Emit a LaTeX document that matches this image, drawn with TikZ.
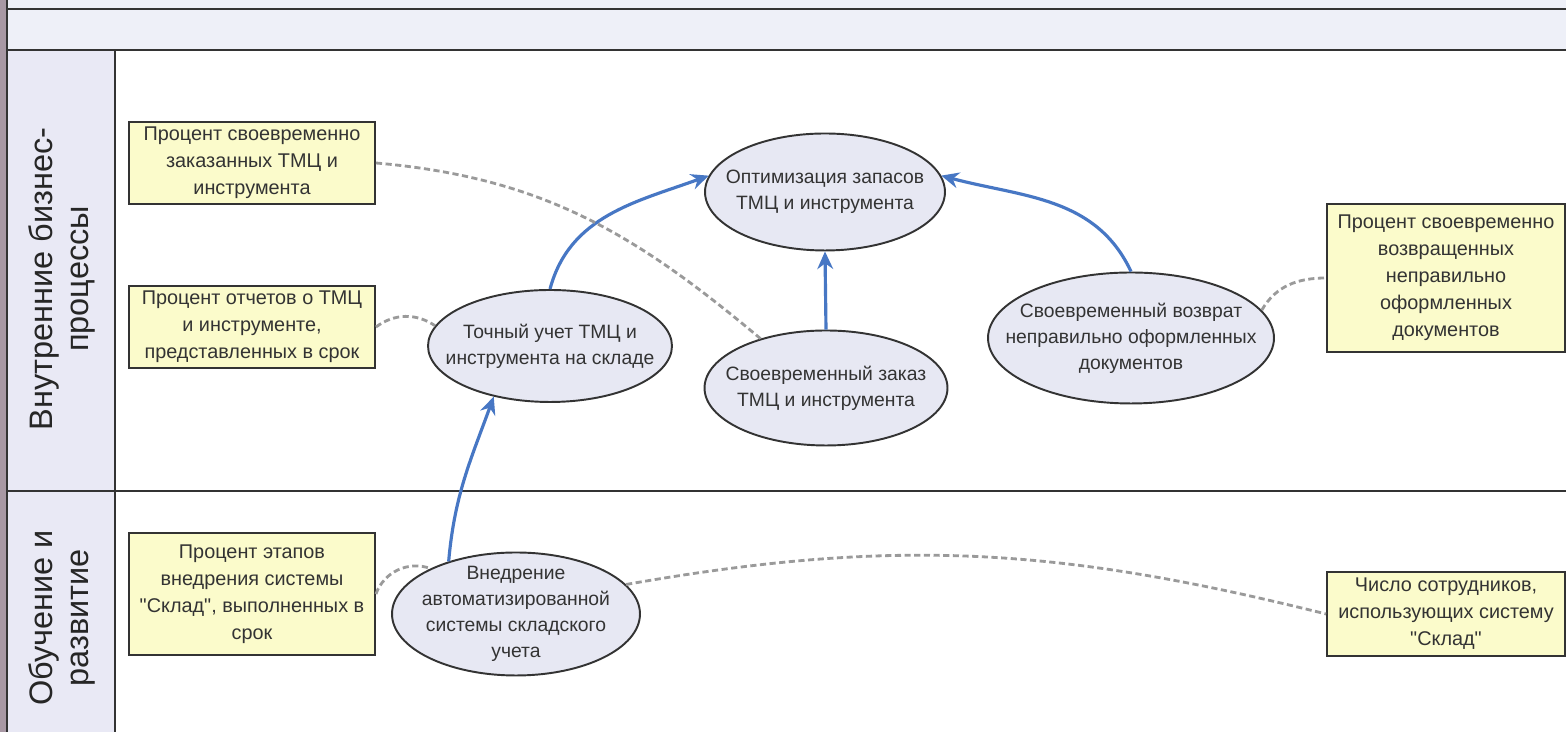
\documentclass[tikz,border=0pt]{standalone}
\usepackage{fontspec}
\setmainfont{Liberation Sans}[Ligatures=TeXOff]
\usetikzlibrary{arrows.meta,shapes.geometric}
\definecolor{lanebg}{HTML}{E9E9F5}
\definecolor{bandbg}{HTML}{EEF0F8}
\definecolor{edgebar}{HTML}{A898A4}
\definecolor{kpibg}{HTML}{FBFBCB}
\definecolor{goalbg}{HTML}{E7E8F3}
\definecolor{linkblue}{HTML}{4777C4}
\definecolor{tiegray}{HTML}{9A9A9A}
\begin{document}
\begin{tikzpicture}[x=0.02cm,y=0.02cm,>={Stealth[length=10pt,width=9pt]},
  kpi/.style={draw=black!80,line width=1.1pt,fill=kpibg,align=center,inner sep=1pt,
    text=black!80,font=\fontsize{11.3}{15.3}\selectfont},
  goal/.style={ellipse,draw=black!80,line width=1.1pt,fill=goalbg,align=center,
    inner xsep=-0.6cm,inner ysep=-0.3cm,text=black!80,font=\fontsize{11}{14.8}\selectfont},
  link/.style={->,line width=1.8pt,linkblue},
  tie/.style={line width=1.6pt,tiegray,dash pattern=on 3.5pt off 2pt},
  lane/.style={rotate=90,align=center,font=\fontsize{18.5}{20.4}\selectfont,text=black!85}]
\useasboundingbox (0,0) rectangle (1566,732);
% swimlanes
\fill[white] (0,0) rectangle (1566,732);
\fill[bandbg] (7,682) rectangle (1566,732);
\fill[lanebg] (7,0) rectangle (115,682);
\fill[edgebar] (0,0) rectangle (7,732);
\draw[line width=1.3pt,black!80] (7,0)--(7,732) (7,723)--(1566,723) (7,682)--(1566,682)
  (115,0)--(115,682) (7,241)--(1566,241);
\node[lane] (lp) at (62,453) {Внутренние бизнес-\\процессы};
\node[lane] (ld) at (62,114) {Обучение и\\развитие};
% goals
\node[goal,minimum width=4.8cm,minimum height=2.34cm] (g1) at (825,540) {Оптимизация запасов\\ТМЦ и инструмента};
\node[goal,minimum width=4.88cm,minimum height=2.24cm] (g2) at (550,386) {Точный учет ТМЦ и\\инструмента на складе};
\node[goal,minimum width=4.86cm,minimum height=2.3cm] (g3) at (826,344) {Своевременный заказ\\ТМЦ и инструмента};
\node[goal,minimum width=5.72cm,minimum height=2.62cm] (g4) at (1131,394) {Своевременный возврат\\неправильно оформленных\\документов};
\node[goal,minimum width=4.96cm,minimum height=2.46cm] (g5) at (516,118) {Внедрение\\автоматизированной\\системы складского\\учета};
% indicators
\node[kpi,minimum width=4.92cm,minimum height=1.64cm] (k1) at (252,569) {Процент своевременно\\заказанных ТМЦ и\\инструмента};
\node[kpi,minimum width=4.92cm,minimum height=1.64cm] (k2) at (252,405) {Процент отчетов о ТМЦ\\и инструменте,\\представленных в срок};
\node[kpi,minimum width=4.92cm,minimum height=2.44cm] (k3) at (252,138) {Процент этапов\\внедрения системы\\"Склад", выполненных в\\срок};
\node[kpi,minimum width=4.76cm,minimum height=2.96cm] (k4) at (1446,454) {Процент своевременно\\возвращенных\\неправильно\\оформленных\\документов};
\node[kpi,minimum width=4.76cm,minimum height=1.68cm] (k5) at (1446,118) {Число сотрудников,\\использующих систему\\"Склад"};
% links
\draw[link] (g2.north) to[out=75,in=200] (g1.172);
\draw[link] (g3.north) -- (g1.south);
\draw[link] (g4.north) to[out=115,in=-15] (g1.8);
\draw[link] (g5.142) to[out=85,in=250] (g2.222);
% measures
\draw[tie] (k1.east) to[out=-5,in=140] (g3.143);
\draw[tie] (k2.east) to[bend left=35] (g2.170);
\draw[tie] (k3.east) to[bend left=45] (g5.152);
\draw[tie] (g4.12) to[out=60,in=180] (k4.west);
\draw[tie] (g5.15) to[out=10,in=166] (k5.west);
\end{tikzpicture}
\end{document}
